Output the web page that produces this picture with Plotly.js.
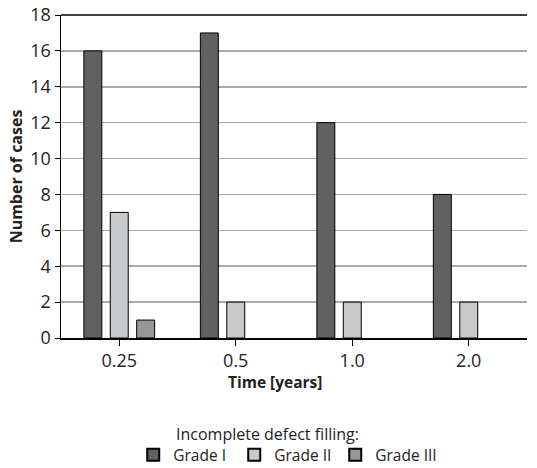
<!DOCTYPE html>
<html><head><meta charset="utf-8">
<script src="https://cdn.plot.ly/plotly-3.0.1.min.js"></script>
<style>body{margin:0;background:#fff}#c{width:537px;height:468px}</style>
</head><body><div id="c"></div>
<script>
const categories = ['0.25', '0.5', '1.0', '2.0'];
const gradeI = [16, 17, 12, 8];
const gradeII = [7, 2, 2, 2];
const gradeIII = [1, null, null, null];
const seriesNames = ['Grade I', 'Grade II', 'Grade III'];
const colors = ['#606163', '#c8c9cb', '#959698'];
const yTicks = [0, 2, 4, 6, 8, 10, 12, 14, 16, 18];

const font = 'Open Sans, Lato, sans-serif';
const data = [gradeI, gradeII, gradeIII].map((v, i) => ({
  type: 'bar', x: categories, y: v, name: seriesNames[i],
  marker: {color: colors[i], line: {color: '#000', width: 1}}
}));
const layout = {
  width: 537, height: 468,
  margin: {l: 61, r: 10, t: 15, b: 130, autoexpand: false},
  barmode: 'group', bargap: 0.32, bargroupgap: 0.32,
  paper_bgcolor: '#fff', plot_bgcolor: '#fff',
  font: {family: font, size: 15, color: '#222'},
  xaxis: {type: 'category', showline: true, linecolor: '#000', linewidth: 1.5,
    ticks: 'outside', ticklen: 6, tickcolor: '#000', mirror: false,
    tickfont: {family: font, size: 18, color: '#222'}},
  yaxis: {range: [0, 18], tickvals: yTicks, showline: true, linecolor: '#000', linewidth: 1.5,
    ticks: 'outside', ticklen: 5, tickcolor: '#000', showgrid: true, gridcolor: '#aaaaaa', gridwidth: 1.5,
    zeroline: false, tickfont: {family: font, size: 18, color: '#222'},
    title: {text: '<b>Number of cases</b>', standoff: 3, font: {size: 16}}},
  annotations: [
    {text: '<b>Time [years]</b>', xref: 'paper', yref: 'paper', x: 0.46, y: -0.135,
      xanchor: 'center', yanchor: 'middle', showarrow: false, font: {size: 15.5}},
    {text: 'Incomplete defect filling:', xref: 'paper', yref: 'paper', x: 0.444, y: -0.297,
      xanchor: 'center', yanchor: 'middle', showarrow: false, font: {size: 16}}
  ],
  shapes: [{type: 'line', xref: 'paper', yref: 'paper', x0: 0, x1: 1, y0: 1, y1: 1, line: {color: '#000', width: 1.5}}],
  legend: {orientation: 'h', x: 0.155, xanchor: 'left', y: -0.31, yanchor: 'top',
    font: {size: 15.5}, itemwidth: 30, entrywidth: 56, itemsizing: 'constant', tracegroupgap: 0}
};
Plotly.newPlot('c', data, layout, {displayModeBar: false, staticPlot: true});
</script></body></html>
